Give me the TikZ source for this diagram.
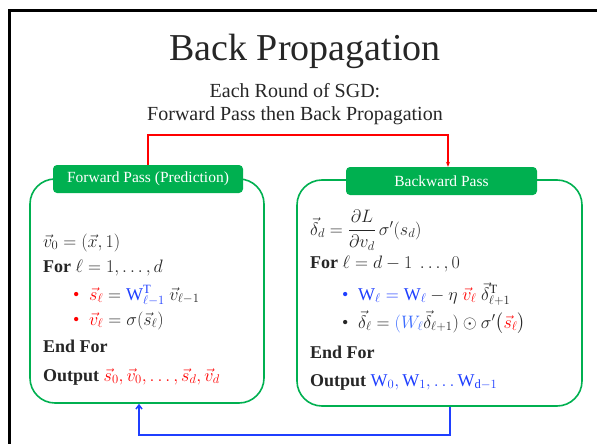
\RequirePackage{fix-cm}
\documentclass[tikz,border=0pt]{standalone}
\usepackage{amsmath}
\usepackage{fontspec}
\setmainfont{Liberation Serif}
\usetikzlibrary{arrows.meta,calc}
\definecolor{pgreen}{HTML}{00B050}
\definecolor{pred}{HTML}{FF0000}
\definecolor{pblue}{HTML}{1F3FFF}
\definecolor{pblueb}{HTML}{3C6CFF}
\definecolor{ptext}{HTML}{262626}
\tikzset{
  panel/.style={draw=pgreen, line width=1.6pt, rounded corners=25pt, inner sep=0pt},
  tab/.style={fill=pgreen, rounded corners=4pt, text=white, inner sep=0pt,
    minimum height=28pt, font=\fontsize{15.5}{18}\selectfont},
  body/.style={anchor=base west, inner sep=0pt, text=ptext, font=\fontsize{18}{21}\selectfont},
  sub/.style={anchor=base, inner sep=0pt, text=ptext, font=\fontsize{20}{24}\selectfont},
  redarrow/.style={draw=pred, line width=1.5pt, -{Stealth[length=5pt,width=4pt]}},
  bluearrow/.style={draw=pblue, line width=1.5pt, -{Straight Barb[length=4pt,width=6pt]}},
}
\begin{document}
\begin{tikzpicture}[x=1pt,y=-1pt]
\useasboundingbox (0,0) rectangle (597,444);
\draw[line width=3pt] (9.5,444) -- (9.5,10.5) -- (597,10.5);
% title
\node[anchor=base, inner sep=0pt, text=ptext, font=\fontsize{38}{44}\selectfont] (title) at (305,60) {Back Propagation};
\node[sub] (sub1) at (295,97) {Each Round of SGD:};
\node[sub] (sub2) at (295,121) {Forward Pass then Back Propagation};
% panels
\node[panel, minimum width=234pt, minimum height=224pt] (lbox) at (147,291) {};
\node[panel, minimum width=285pt, minimum height=226pt] (rbox) at (439.5,293) {};
\node[tab, minimum width=190pt] (ltab) at (148,179) {Forward Pass (Prediction)};
\node[tab, minimum width=191pt] (rtab) at (441.5,181) {Backward Pass};
% arrows
\draw[redarrow] (ltab.north) -- ++(0,-30) -| ([xshift=6.5pt]rtab.north);
\draw[bluearrow] ([xshift=10.5pt]rbox.south) -- ++(0,28) -| ([xshift=-8pt]lbox.south);
% left text
\node[body] (l1) at (43,247) {$\vec{v}_0 = (\vec{x}, 1)$};
\node[body] (l2) at (43,272) {\textbf{For} $\ell = 1, \dots, d$};
\node[body, text=pred] (lb1) at (73,300) {\textbullet};
\node[body] (l3) at (89,300) {$\color{pred}\vec{s}_\ell \color{ptext} = \color{pblue}\mathrm{W}^{\mathrm{T}}_{\ell-1}\ \color{ptext}\vec{v}_{\ell-1}$};
\node[body, text=pred] (lb2) at (73,325) {\textbullet};
\node[body] (l4) at (89,325) {$\color{pred}\vec{v}_\ell \color{ptext} = \sigma(\vec{s}_\ell)$};
\node[body] (l5) at (43,352) {\textbf{End For}};
\node[body] (l6) at (43,381) {\textbf{Output} $\color{pred}\vec{s}_0, \vec{v}_0, \dots, \vec{s}_d, \vec{v}_d$};
% right text
\node[body] (r1) at (310,235) {$\vec{\delta}_d = \dfrac{\partial L}{\partial v_d}\,\sigma'(s_d)$};
\node[body] (r2) at (310,268) {\textbf{For} $\ell = d-1\ \dots, 0$};
\node[body, text=pblue] (rb1) at (342,300) {\textbullet};
\node[body] (r3) at (358,300) {$\color{pblue}\mathrm{W}_\ell = \mathrm{W}_\ell \color{ptext} - \eta\ \color{pred}\vec{v}_\ell\ \color{ptext}\vec{\delta}^{\mathrm{T}}_{\ell+1}$};
\node[body] (rb2) at (342,328) {\textbullet};
\node[body] (r4) at (358,328) {$\vec{\delta}_\ell = {\color{pblueb}(W_\ell}\vec{\delta}_{\ell+1})\odot\sigma'\big(\color{pred}\vec{s}_\ell\color{ptext}\big)$};
\node[body] (r5) at (310,358) {\textbf{End For}};
\node[body] (r6) at (310,386) {\textbf{Output} $\color{pblue}\mathrm{W}_0, \mathrm{W}_1, \dots \mathrm{W}_{\mathrm{d}-1}$};
\end{tikzpicture}
\end{document}
